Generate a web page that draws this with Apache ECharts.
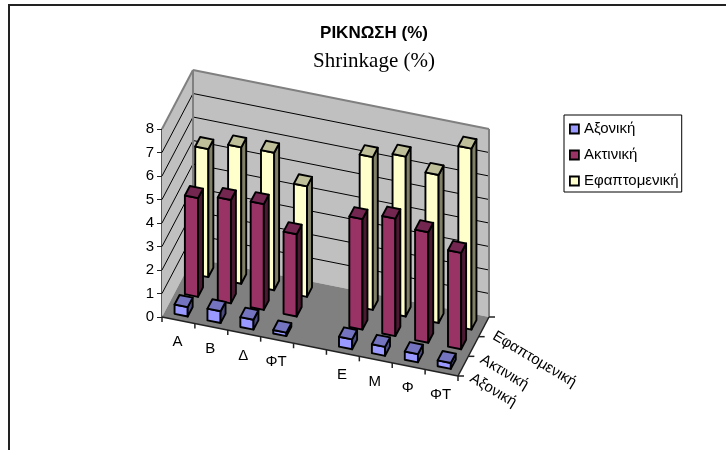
<!DOCTYPE html>
<html><head><meta charset="utf-8">
<style>html,body{margin:0;padding:0;background:#fff}#c{width:726px;height:450px}</style>
<script src="https://cdn.jsdelivr.net/npm/echarts@6/dist/echarts.min.js"></script>
</head><body><div id="c"></div>
<script>
var categories = ['Α','Β','Δ','ΦΤ','','Ε','Μ','Φ','ΦΤ'];
var depthNames = ['Αξονική','Ακτινική','Εφαπτομενική'];
var axial      = [0.40,0.50,0.42,0.15,null,0.42,0.38,0.35,0.25];
var radial     = [4.2,4.4,4.5,3.5,null,4.7,5.0,4.7,4.1];
var tangential = [5.45,5.8,5.85,4.7,null,6.5,6.8,6.3,7.7];
var yTicks = [0,1,2,3,4,5,6,7,8];

var L=162, W=296, T=129, H=188;         // plot box of the front plane
var SLOPE=59/296;                        // front edge falls to the right
var DX=31/3, DY=59/3;                    // screen shift per depth step
var BAR_W=0.4, BAR_D=0.48;
var chart = echarts.init(document.getElementById('c'),null,{renderer:'canvas'});

function projector(api){
  return function(x,y,z){
    var c=api.coord([x,y]);
    return [c[0]+z*DX, c[1]+(c[0]-L)*SLOPE-z*DY];
  };
}
function barRender(depth,front,top,side){
  return function(params,api){
    var v=api.value(1); if(v==null||isNaN(v)) return;
    var P=projector(api), i=api.value(0);
    var x0=i+0.5-BAR_W/2, x1=i+0.5+BAR_W/2, z0=depth+0.5-BAR_D/2, z1=depth+0.5+BAR_D/2;
    var st={stroke:'#000',lineWidth:1.9,lineJoin:'round'};
    function poly(pts,f){return {type:'polygon',shape:{points:pts},style:Object.assign({fill:f},st)};}
    return {type:'group',children:[
      poly([P(x0,0,z0),P(x1,0,z0),P(x1,v,z0),P(x0,v,z0)],front),
      poly([P(x1,0,z0),P(x1,0,z1),P(x1,v,z1),P(x1,v,z0)],side),
      poly([P(x0,v,z0),P(x1,v,z0),P(x1,v,z1),P(x0,v,z1)],top)
    ]};
  };
}
function sceneRender(params,api){
  var P=projector(api),n=categories.length,d=depthNames.length,ch=[];
  var edge={stroke:'#808080',lineWidth:2};
  function poly(pts,f){return {type:'polygon',shape:{points:pts},style:{fill:f,stroke:null}};}
  function line(a,b,s){return {type:'line',shape:{x1:a[0],y1:a[1],x2:b[0],y2:b[1]},style:s};}
  var top=yTicks[yTicks.length-1];
  ch.push(poly([P(0,0,0),P(0,0,d),P(0,top,d),P(0,top,0)],'#C0C0C0'));
  ch.push(poly([P(0,0,d),P(n,0,d),P(n,top,d),P(0,top,d)],'#C0C0C0'));
  ch.push(poly([P(0,0,0),P(n,0,0),P(n,0,d),P(0,0,d)],'#808080'));
  yTicks.forEach(function(t){
    if(t===0||t===top) return;
    ch.push(line(P(0,t,0),P(0,t,d),{stroke:'#000',lineWidth:1}));
    ch.push(line(P(0,t,d),P(n,t,d),{stroke:'#000',lineWidth:1}));
  });
  ch.push(line(P(0,0,d),P(0,top,d),edge));
  ch.push(line(P(0,top,0),P(0,top,d),edge));
  ch.push(line(P(0,top,d),P(n,top,d),edge));
  ch.push(line(P(n,0,d),P(n,top,d),edge));
  var ax={stroke:'#222',lineWidth:1.5};
  ch.push(line(P(0,0,0),P(n,0,0),ax));
  ch.push(line(P(n,0,0),P(n,0,d),ax));
  for(var i=0;i<=n;i++){var a=P(i,0,0);ch.push(line(a,[a[0],a[1]+5],ax));}
  for(var k=0;k<=d;k++){var b=P(n,0,k);ch.push(line(b,[b[0]+6,b[1]],ax));}
  var font='15px "Liberation Sans"';
  categories.forEach(function(c,i){
    var a=P(i+0.5,0,0);
    ch.push({type:'text',style:{text:c,x:a[0]-1,y:a[1]+22,align:'center',verticalAlign:'middle',font:font,fill:'#000'}});
  });
  var nudgeX=[-1,-1,1], nudgeY=[3,4,0];
  depthNames.forEach(function(c,k){
    var b=P(n,0,k+0.5);
    ch.push({type:'text',x:b[0]+9+nudgeX[k],y:b[1]+8+nudgeY[k],rotation:-31*Math.PI/180,
      style:{text:c,x:0,y:0,align:'left',verticalAlign:'middle',font:font,fill:'#000'}});
  });
  return {type:'group',children:ch};
}
function seriesData(a){return a.map(function(v,i){return [i,v];});}
function barSeries(name,values,depth,front,top,side){
  return {type:'custom',name:name,coordinateSystem:'cartesian2d',z:10-depth,
    itemStyle:{color:front},encode:{x:0,y:1},data:seriesData(values),clip:false,silent:true,
    renderItem:barRender(depth,front,top,side)};
}
chart.setOption({
  animation:false,backgroundColor:'#fff',
  title:{text:'ΡΙΚΝΩΣΗ (%)',subtext:'Shrinkage (%)',left:369,top:20,textAlign:'center',itemGap:9,
    textStyle:{fontFamily:'Liberation Sans',fontSize:17,fontWeight:'bold',color:'#000'},
    subtextStyle:{fontFamily:'Liberation Serif',fontSize:21,color:'#000'}},
  legend:{orient:'vertical',left:564,top:115,padding:[6.5,3,3.5,5],itemGap:11,
    borderColor:'#000',borderWidth:1,backgroundColor:'#fff',
    itemWidth:9,itemHeight:9,icon:'rect',selectedMode:false,
    data:depthNames,
    itemStyle:{borderColor:'#000',borderWidth:1.8},
    textStyle:{fontFamily:'Liberation Sans',fontSize:15,color:'#000'}},
  grid:{left:L,top:T,width:W,height:H,containLabel:false},
  xAxis:{type:'value',min:0,max:categories.length,show:false},
  yAxis:{type:'value',min:0,max:8,interval:1,
    axisLine:{show:true,onZero:false,lineStyle:{color:'#222',width:1.5}},
    axisTick:{show:true,length:5,lineStyle:{color:'#222'}},
    axisLabel:{fontFamily:'Liberation Sans',fontSize:15,color:'#000',margin:8},
    splitLine:{show:false}},
  graphic:[{type:'polyline',silent:true,z:-1,shape:{points:[[9,450],[9,5],[726,5]]},style:{stroke:'#222',fill:null,lineWidth:2}}],
  series:[
    {type:'custom',name:'scene',coordinateSystem:'cartesian2d',z:1,data:[[0,0]],clip:false,silent:true,renderItem:sceneRender},
    barSeries(depthNames[0],axial,0,'#9999FF','#7373BF','#4C4C80'),
    barSeries(depthNames[1],radial,1,'#993366','#732650','#4C1933'),
    barSeries(depthNames[2],tangential,2,'#FFFFCC','#BFBF99','#808066')
  ]
});
</script></body></html>
